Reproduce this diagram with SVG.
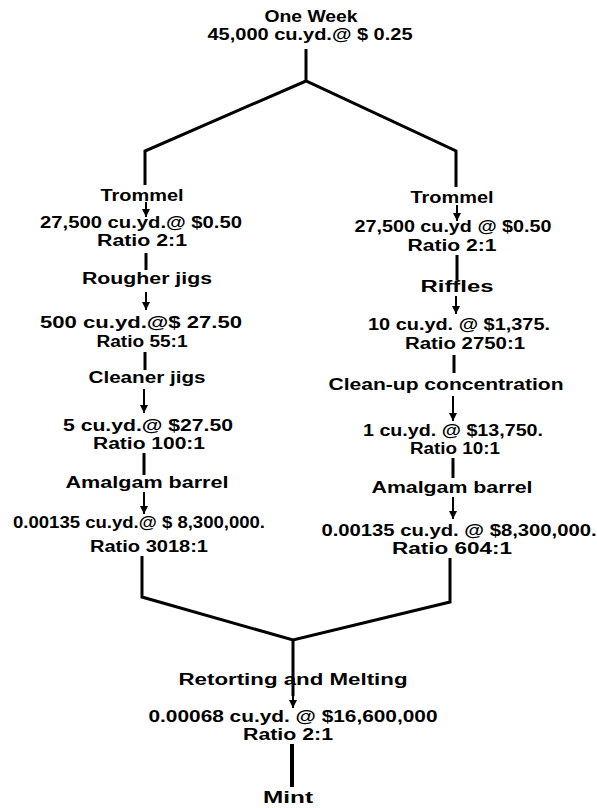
<svg xmlns="http://www.w3.org/2000/svg" width="597" height="808" viewBox="0 0 597 808">
<defs>
<marker id="ah" viewBox="0 0 10 10" refX="10" refY="5" markerWidth="4" markerHeight="4" markerUnits="strokeWidth" orient="auto">
<path d="M0,0 L10,5 L0,10 Z" fill="#000"/>
</marker>
<style>
text{font-family:"Liberation Sans",Arial,sans-serif;font-size:16px;font-weight:bold;fill:#000;text-anchor:middle}
.ln{stroke:#000;stroke-width:3;fill:none;stroke-linejoin:miter}
.ar{stroke:#000;stroke-width:2;fill:none;marker-end:url(#ah)}
.thick{stroke:#000;stroke-width:4;fill:none}
</style>
</defs>
<rect width="597" height="808" fill="#fff"/>
<g id="connectors">
<line class="ln" x1="306" y1="49" x2="306" y2="81"/>
<polyline class="ln" points="145,185 145,151 306,81 456,151 456,187"/>
<line class="ar" x1="146" y1="202" x2="146" y2="217"/>
<line class="ln" x1="146" y1="253" x2="146" y2="270"/>
<line class="ar" x1="146" y1="292" x2="146" y2="310"/>
<line class="ln" x1="145" y1="352" x2="145" y2="370"/>
<line class="ar" x1="144" y1="389" x2="144" y2="413"/>
<line class="ln" x1="144" y1="453" x2="144" y2="475"/>
<line class="ar" x1="144" y1="492" x2="144" y2="514"/>
<line class="ar" x1="457" y1="205" x2="457" y2="221"/>
<line class="ln" x1="457" y1="255" x2="457" y2="280"/>
<line class="ar" x1="456" y1="296" x2="456" y2="314"/>
<line class="ln" x1="454" y1="355" x2="454" y2="373"/>
<line class="ar" x1="453" y1="396" x2="453" y2="421"/>
<line class="ln" x1="453" y1="458" x2="453" y2="478"/>
<line class="ar" x1="453" y1="497" x2="453" y2="519"/>
<polyline class="ln" points="142,556 142,597 293,640 450,602 450,558"/>
<line class="ln" x1="293" y1="640" x2="293" y2="696"/>
<line class="ar" x1="293" y1="694" x2="293" y2="708"/>
<line class="thick" x1="292" y1="744" x2="292" y2="787"/>
</g>
<g id="start">
<text x="311" y="22" textLength="93" lengthAdjust="spacingAndGlyphs">One Week</text>
<text x="310" y="40" textLength="205" lengthAdjust="spacingAndGlyphs">45,000 cu.yd.@ $ 0.25</text>
</g>
<g id="left-trommel">
<text x="142" y="201" textLength="83" lengthAdjust="spacingAndGlyphs">Trommel</text>
<text x="141" y="228" textLength="202" lengthAdjust="spacingAndGlyphs">27,500 cu.yd.@ $0.50</text>
<text x="142" y="246" textLength="90" lengthAdjust="spacingAndGlyphs">Ratio 2:1</text>
</g>
<g id="left-rougher">
<text x="147" y="284" textLength="130" lengthAdjust="spacingAndGlyphs">Rougher jigs</text>
<text x="141" y="328" textLength="202" lengthAdjust="spacingAndGlyphs">500 cu.yd.@$ 27.50</text>
<text x="142" y="347" textLength="91" lengthAdjust="spacingAndGlyphs">Ratio 55:1</text>
</g>
<g id="left-cleaner">
<text x="147" y="383" textLength="117" lengthAdjust="spacingAndGlyphs">Cleaner jigs</text>
<text x="148" y="431" textLength="170" lengthAdjust="spacingAndGlyphs">5 cu.yd.@ $27.50</text>
<text x="149" y="449" textLength="112" lengthAdjust="spacingAndGlyphs">Ratio 100:1</text>
</g>
<g id="left-amalgam">
<text x="147" y="488" textLength="163" lengthAdjust="spacingAndGlyphs">Amalgam barrel</text>
<text x="139" y="528" textLength="252" lengthAdjust="spacingAndGlyphs">0.00135 cu.yd.@ $ 8,300,000.</text>
<text x="149" y="552" textLength="118" lengthAdjust="spacingAndGlyphs">Ratio 3018:1</text>
</g>
<g id="right-trommel">
<text x="452" y="203" textLength="83" lengthAdjust="spacingAndGlyphs">Trommel</text>
<text x="453" y="232" textLength="197" lengthAdjust="spacingAndGlyphs">27,500 cu.yd @ $0.50</text>
<text x="452" y="251" textLength="89" lengthAdjust="spacingAndGlyphs">Ratio 2:1</text>
</g>
<g id="right-riffles">
<text x="457" y="292" textLength="73" lengthAdjust="spacingAndGlyphs">Riffles</text>
<text x="459" y="330" textLength="182" lengthAdjust="spacingAndGlyphs">10 cu.yd. @ $1,375.</text>
<text x="465" y="349" textLength="120" lengthAdjust="spacingAndGlyphs">Ratio 2750:1</text>
</g>
<g id="right-cleanup">
<text x="446" y="390" textLength="235" lengthAdjust="spacingAndGlyphs">Clean-up concentration</text>
<text x="453" y="436" textLength="180" lengthAdjust="spacingAndGlyphs">1 cu.yd. @ $13,750.</text>
<text x="455" y="454" textLength="90" lengthAdjust="spacingAndGlyphs">Ratio 10:1</text>
</g>
<g id="right-amalgam">
<text x="452" y="493" textLength="161" lengthAdjust="spacingAndGlyphs">Amalgam barrel</text>
<text x="459" y="536" textLength="275" lengthAdjust="spacingAndGlyphs">0.00135 cu.yd. @ $8,300,000.</text>
<text x="452" y="554" textLength="120" lengthAdjust="spacingAndGlyphs">Ratio 604:1</text>
</g>
<g id="retorting">
<text x="293" y="685" textLength="229" lengthAdjust="spacingAndGlyphs">Retorting and Melting</text>
<text x="293" y="722" textLength="289" lengthAdjust="spacingAndGlyphs">0.00068 cu.yd. @ $16,600,000</text>
<text x="288" y="740" textLength="90" lengthAdjust="spacingAndGlyphs">Ratio 2:1</text>
</g>
<g id="mint">
<text x="288" y="803" textLength="50" lengthAdjust="spacingAndGlyphs">Mint</text>
</g>
</svg>
